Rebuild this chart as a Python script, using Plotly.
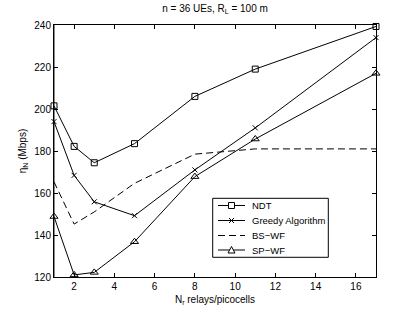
import plotly.graph_objects as go

relays = [1, 2, 3, 5, 8, 11, 17]
ndt = [201.5, 182.2, 174.4, 183.5, 206.0, 219.0, 239.3]
greedy = [194.0, 168.4, 155.8, 149.2, 171.0, 191.0, 234.0]
bs_wf = [165.3, 145.2, 151.0, 164.6, 178.5, 181.0, 181.0]
sp_wf = [148.8, 121.0, 122.2, 136.8, 167.8, 185.7, 217.0]

series_names = ["NDT", "Greedy Algorithm", "BS\u2212WF", "SP\u2212WF"]

x_ticks = [2, 4, 6, 8, 10, 12, 14, 16]
y_ticks = [120, 140, 160, 180, 200, 220, 240]

FONT = "Liberation Sans, Arial, Helvetica, sans-serif"
W, H = 415, 312
ML, MR, MT, MB = 54, 39, 25, 35
PW, PH = W - ML - MR, H - MT - MB
DASH = "7px,4px"

# left axis drawn grey as in the reference (added before traces' markers are unclipped)
fig = go.Figure()
fig.add_trace(go.Scatter(x=relays, y=ndt, name=series_names[0], mode="lines+markers",
                         cliponaxis=False,
                         line=dict(color="black", width=1),
                         marker=dict(symbol="square-open", size=6, color="black", line=dict(width=1))))
fig.add_trace(go.Scatter(x=relays, y=greedy, name=series_names[1], mode="lines+markers",
                         cliponaxis=False,
                         line=dict(color="black", width=1),
                         marker=dict(symbol="x-thin-open", size=5, color="black", line=dict(width=1, color="black"))))
fig.add_trace(go.Scatter(x=relays, y=bs_wf, name=series_names[2], mode="lines",
                         line=dict(color="black", width=1, dash=DASH)))
fig.add_trace(go.Scatter(x=relays, y=sp_wf, name=series_names[3], mode="lines+markers",
                         cliponaxis=False,
                         line=dict(color="black", width=1),
                         marker=dict(symbol="triangle-up-open", size=7, color="black", line=dict(width=1))))

axis_common = dict(showgrid=False, zeroline=False, showline=True, linecolor="black", linewidth=1,
                   mirror="ticks", ticks="inside", ticklen=4, tickcolor="black", tickwidth=1,
                   automargin=False,
                   tickfont=dict(family=FONT, size=10, color="black"))

fig.update_layout(
    width=W, height=H,
    margin=dict(l=ML, r=MR, t=MT, b=MB, autoexpand=False),
    paper_bgcolor="white", plot_bgcolor="white",
    font=dict(family=FONT, size=10, color="black"),
    title=dict(text="n = 36 UEs, R<sub>L</sub> = 100 m", x=0.5, xref="paper", xanchor="center",
               y=0.985, yref="container", yanchor="top", font=dict(size=10)),
    xaxis=dict(range=[1, 17], tickvals=x_ticks, **axis_common,
               title=dict(text="N<sub>r</sub> relays/picocells", font=dict(size=10), standoff=4)),
    yaxis=dict(range=[120, 240], tickvals=y_ticks, **axis_common,
               title=dict(text="\u03b7<sub>N</sub> (Mbps)", font=dict(size=10), standoff=5)),
    showlegend=False,
)

fig.add_shape(type="line", xref="paper", yref="paper", x0=0, x1=0, y0=0, y1=1,
              line=dict(color="#888888", width=2), layer="below")

# ---- hand-built legend (box covers the curves, as in the reference) ----
px = lambda p: p / PW   # pixels -> paper x
py = lambda p: p / PH   # pixels -> paper y
bx0, bx1 = px(212.7 - ML), px(328.3 - ML)
by1, by0 = py(H - MB - 198.3), py(H - MB - 257.3)
fig.add_shape(type="rect", xref="paper", yref="paper", x0=bx0, x1=bx1, y0=by0, y1=by1,
              fillcolor="white", line=dict(color="black", width=1), layer="above")

rows_px = [205.5, 220.5, 235.5, 250.0]
lx0, lx1, lxm = px(218 - ML), px(245 - ML), px(231.5 - ML)
tx = px(250 - ML)
for i, name in enumerate(series_names):
    yy = py(H - MB - rows_px[i])
    dash = DASH if i == 2 else "solid"
    fig.add_shape(type="line", xref="paper", yref="paper", x0=lx0, x1=lx1, y0=yy, y1=yy,
                  line=dict(color="black", width=1, dash=dash), layer="above")
    if i == 0:
        s = 3
        fig.add_shape(type="rect", xref="paper", yref="paper",
                      x0=lxm - px(s), x1=lxm + px(s), y0=yy - py(s), y1=yy + py(s),
                      fillcolor="white", line=dict(color="black", width=1), layer="above")
    elif i == 1:
        s = 2.5
        for sg in (1, -1):
            fig.add_shape(type="line", xref="paper", yref="paper",
                          x0=lxm - px(s), x1=lxm + px(s), y0=yy - sg * py(s), y1=yy + sg * py(s),
                          line=dict(color="black", width=1), layer="above")
    elif i == 3:
        path = "M {a},{b} L {c},{b} L {d},{e} Z".format(
            a=lxm - px(3.5), b=yy - py(3), c=lxm + px(3.5), d=lxm, e=yy + py(3.5))
        fig.add_shape(type="path", xref="paper", yref="paper", path=path,
                      fillcolor="white", line=dict(color="black", width=1), layer="above")
    fig.add_annotation(x=tx, y=yy, xref="paper", yref="paper", text=name, showarrow=False,
                       xanchor="left", yanchor="middle", font=dict(size=9.5, family=FONT, color="black"))

# remove the browser's default 8px page margin so the figure sits at (0,0)
fig.write_html("out.html", config={"displayModeBar": False},
               post_script="document.body.style.margin='0';document.body.style.overflow='hidden';")
